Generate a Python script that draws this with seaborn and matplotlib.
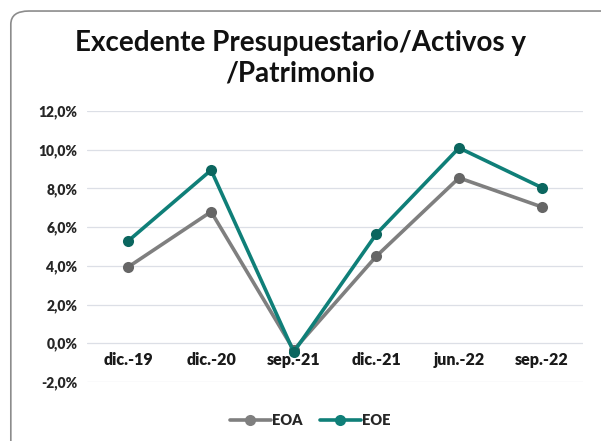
import pandas as pd
import matplotlib.pyplot as plt
import seaborn as sns
from matplotlib.patches import FancyBboxPatch
from matplotlib.ticker import FuncFormatter

periodos = ["dic.-19", "dic.-20", "sep.-21", "dic.-21", "jun.-22", "sep.-22"]
eoa = [3.95, 6.8, -0.35, 4.5, 8.55, 7.05]
eoe = [5.3, 8.95, -0.45, 5.65, 10.1, 8.05]

df = pd.DataFrame({
    "Periodo": periodos * 2,
    "Valor": eoa + eoe,
    "Serie": ["EOA"] * len(eoa) + ["EOE"] * len(eoe),
})

sns.set_theme(style="white")
plt.rcParams["font.family"] = ["Lato", "DejaVu Sans"]

fig = plt.figure(figsize=(6.01, 4.41), dpi=100)
fig.patch.set_facecolor("white")

# rounded chart border
border = FancyBboxPatch((0.018, -0.05), 1.1, 1.025, boxstyle="round,pad=0,rounding_size=0.03",
                        transform=fig.transFigure, facecolor="none", edgecolor="#8c8c8c",
                        linewidth=1.2, clip_on=False)
fig.patches.append(border)

ax = fig.add_axes([0.145, 0.134, 0.825, 0.614])
colors = {"EOA": "#7f7f7f", "EOE": "#0f7f78"}
sns.lineplot(data=df, x="Periodo", y="Valor", hue="Serie", palette=colors, marker="o",
             markersize=8, linewidth=2.6, markeredgewidth=0, ax=ax, sort=False)
for line, mc in zip(ax.lines[:2], ["#666666", "#0b665f"]):
    line.set_markerfacecolor(mc)

ax.set_ylim(-2, 12)
ax.set_xlim(-0.5, 5.5)
ax.set_yticks(range(-2, 13, 2))
ax.yaxis.set_major_formatter(FuncFormatter(lambda v, p: f"{v:.1f}%".replace(".", ",")))
ax.grid(axis="y", color="#dcdfe6", linewidth=0.9)
ax.set_axisbelow(True)
for s in ax.spines.values():
    s.set_visible(False)
ax.spines["bottom"].set_position(("data", 0))
ax.tick_params(axis="both", length=0)
ax.tick_params(axis="y", pad=7, labelsize=10, labelcolor="#262626")
ax.tick_params(axis="x", pad=6, labelsize=11.5, labelcolor="#1a1a1a")
for t in ax.get_yticklabels() + ax.get_xticklabels():
    t.set_fontweight("heavy")
ax.set_xlabel("")
ax.set_ylabel("")

leg = ax.legend(loc="upper center", bbox_to_anchor=(0.45, -0.07), ncol=2, frameon=False,
                handlelength=2.8, columnspacing=1.2, handletextpad=0.1,
                prop={"weight": "heavy", "size": 10.5})
for txt in leg.get_texts():
    txt.set_color("#262626")

fig.text(0.5, 0.868, "Excedente Presupuestario/Activos y\n/Patrimonio", ha="center", va="center",
         fontsize=20, color="#111111", linespacing=1.2, fontweight="bold")

fig.savefig("out.png", dpi=100)
